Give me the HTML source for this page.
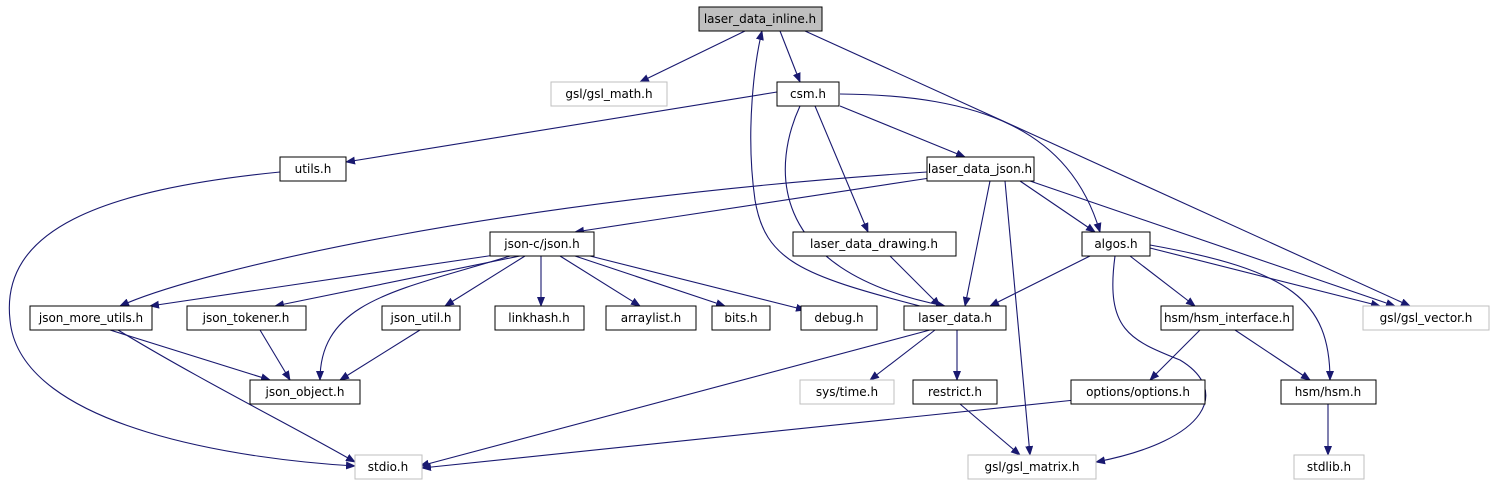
<!DOCTYPE html>
<html><head><meta charset="utf-8"><style>
html,body{margin:0;padding:0;background:#fff;}
svg{display:block;}
text{font-family:"DejaVu Sans","Liberation Sans",sans-serif;font-size:12px;text-anchor:middle;fill:#000;}
</style></head><body>
<svg width="1496" height="485" viewBox="0 0 1496 485" xmlns="http://www.w3.org/2000/svg">
<defs><marker id="a" markerWidth="10" markerHeight="8" refX="9" refY="4" orient="auto" markerUnits="userSpaceOnUse"><path d="M0,0 L10,4 L0,8 Z" fill="#191970"/></marker></defs>
<g fill="none" stroke="#191970" stroke-width="1.1" marker-end="url(#a)">
<path d="M745,31 L640,82"/>
<path d="M780,31 L800,82"/>
<path d="M805,31 L1410,306"/>
<path d="M777,92 L346,162"/>
<path d="M840,106 L965,157"/>
<path d="M840,94 C980,95 1070,130 1100,232"/>
<path d="M815,106 L868,232"/>
<path d="M800,106 C775,160 760,270 945,306"/>
<path d="M920,306 C800,275 765,260 755,200 C745,130 755,60 762,31"/>
<path d="M280,172 C100,190 0,230 10,320 C20,430 250,460 355,466"/>
<path d="M930,178 L575,232"/>
<path d="M927,172 C500,200 200,270 120,306"/>
<path d="M990,181 L965,306"/>
<path d="M1020,181 L1095,232"/>
<path d="M1005,181 L1030,455"/>
<path d="M1030,181 L1395,306"/>
<path d="M495,255 L150,306"/>
<path d="M520,256 L275,306"/>
<path d="M510,256 C400,290 320,300 320,380"/>
<path d="M525,256 L445,306"/>
<path d="M541,256 L541,306"/>
<path d="M560,256 L640,306"/>
<path d="M575,256 L725,306"/>
<path d="M590,256 L805,310"/>
<path d="M890,256 L940,306"/>
<path d="M1090,256 L990,306"/>
<path d="M1130,256 L1195,306"/>
<path d="M1150,248 L1380,306"/>
<path d="M1150,245 C1290,270 1330,300 1330,380"/>
<path d="M1115,256 C1105,330 1130,340 1180,360 C1230,390 1210,440 1096,462"/>
<path d="M110,330 L270,380"/>
<path d="M118,330 C200,380 300,430 355,462"/>
<path d="M260,330 L290,380"/>
<path d="M420,330 L340,380"/>
<path d="M930,330 L420,466"/>
<path d="M935,330 L870,380"/>
<path d="M957,330 L957,380"/>
<path d="M960,404 L1020,455"/>
<path d="M1200,330 L1150,380"/>
<path d="M1235,330 L1310,380"/>
<path d="M1075,400 L422,468"/>
<path d="M1328,404 L1328,455"/>
</g>
<g stroke-width="1">
<rect x="699" y="7" width="123" height="24" fill="#bfbfbf" stroke="#000"/><text x="760" y="23">laser_data_inline.h</text>
<rect x="551" y="82" width="116" height="24" fill="#fff" stroke="#bfbfbf"/><text x="609" y="98">gsl/gsl_math.h</text>
<rect x="777" y="82" width="62" height="24" fill="#fff" stroke="#000"/><text x="808" y="98">csm.h</text>
<rect x="280" y="157" width="66" height="24" fill="#fff" stroke="#000"/><text x="313" y="173">utils.h</text>
<rect x="927" y="157" width="107" height="24" fill="#fff" stroke="#000"/><text x="980" y="173">laser_data_json.h</text>
<rect x="490" y="232" width="104" height="24" fill="#fff" stroke="#000"/><text x="542" y="248">json-c/json.h</text>
<rect x="793" y="232" width="163" height="24" fill="#fff" stroke="#000"/><text x="874" y="248">laser_data_drawing.h</text>
<rect x="1082" y="232" width="68" height="24" fill="#fff" stroke="#000"/><text x="1116" y="248">algos.h</text>
<rect x="30" y="306" width="122" height="24" fill="#fff" stroke="#000"/><text x="91" y="322">json_more_utils.h</text>
<rect x="187" y="306" width="119" height="24" fill="#fff" stroke="#000"/><text x="246" y="322">json_tokener.h</text>
<rect x="382" y="306" width="78" height="24" fill="#fff" stroke="#000"/><text x="421" y="322">json_util.h</text>
<rect x="495" y="306" width="89" height="24" fill="#fff" stroke="#000"/><text x="539" y="322">linkhash.h</text>
<rect x="606" y="306" width="90" height="24" fill="#fff" stroke="#000"/><text x="651" y="322">arraylist.h</text>
<rect x="712" y="306" width="58" height="24" fill="#fff" stroke="#000"/><text x="741" y="322">bits.h</text>
<rect x="801" y="306" width="76" height="24" fill="#fff" stroke="#000"/><text x="839" y="322">debug.h</text>
<rect x="904" y="306" width="102" height="24" fill="#fff" stroke="#000"/><text x="955" y="322">laser_data.h</text>
<rect x="1161" y="306" width="132" height="24" fill="#fff" stroke="#000"/><text x="1227" y="322">hsm/hsm_interface.h</text>
<rect x="1363" y="306" width="126" height="24" fill="#fff" stroke="#bfbfbf"/><text x="1426" y="322">gsl/gsl_vector.h</text>
<rect x="250" y="380" width="110" height="24" fill="#fff" stroke="#000"/><text x="305" y="396">json_object.h</text>
<rect x="800" y="380" width="94" height="24" fill="#fff" stroke="#bfbfbf"/><text x="847" y="396">sys/time.h</text>
<rect x="913" y="380" width="84" height="24" fill="#fff" stroke="#000"/><text x="955" y="396">restrict.h</text>
<rect x="1071" y="380" width="134" height="24" fill="#fff" stroke="#000"/><text x="1138" y="396">options/options.h</text>
<rect x="1281" y="380" width="95" height="24" fill="#fff" stroke="#000"/><text x="1328" y="396">hsm/hsm.h</text>
<rect x="355" y="455" width="67" height="24" fill="#fff" stroke="#bfbfbf"/><text x="388" y="471">stdio.h</text>
<rect x="968" y="455" width="128" height="24" fill="#fff" stroke="#bfbfbf"/><text x="1032" y="471">gsl/gsl_matrix.h</text>
<rect x="1294" y="455" width="70" height="24" fill="#fff" stroke="#bfbfbf"/><text x="1329" y="471">stdlib.h</text>
</g>
</svg>
</body></html>
